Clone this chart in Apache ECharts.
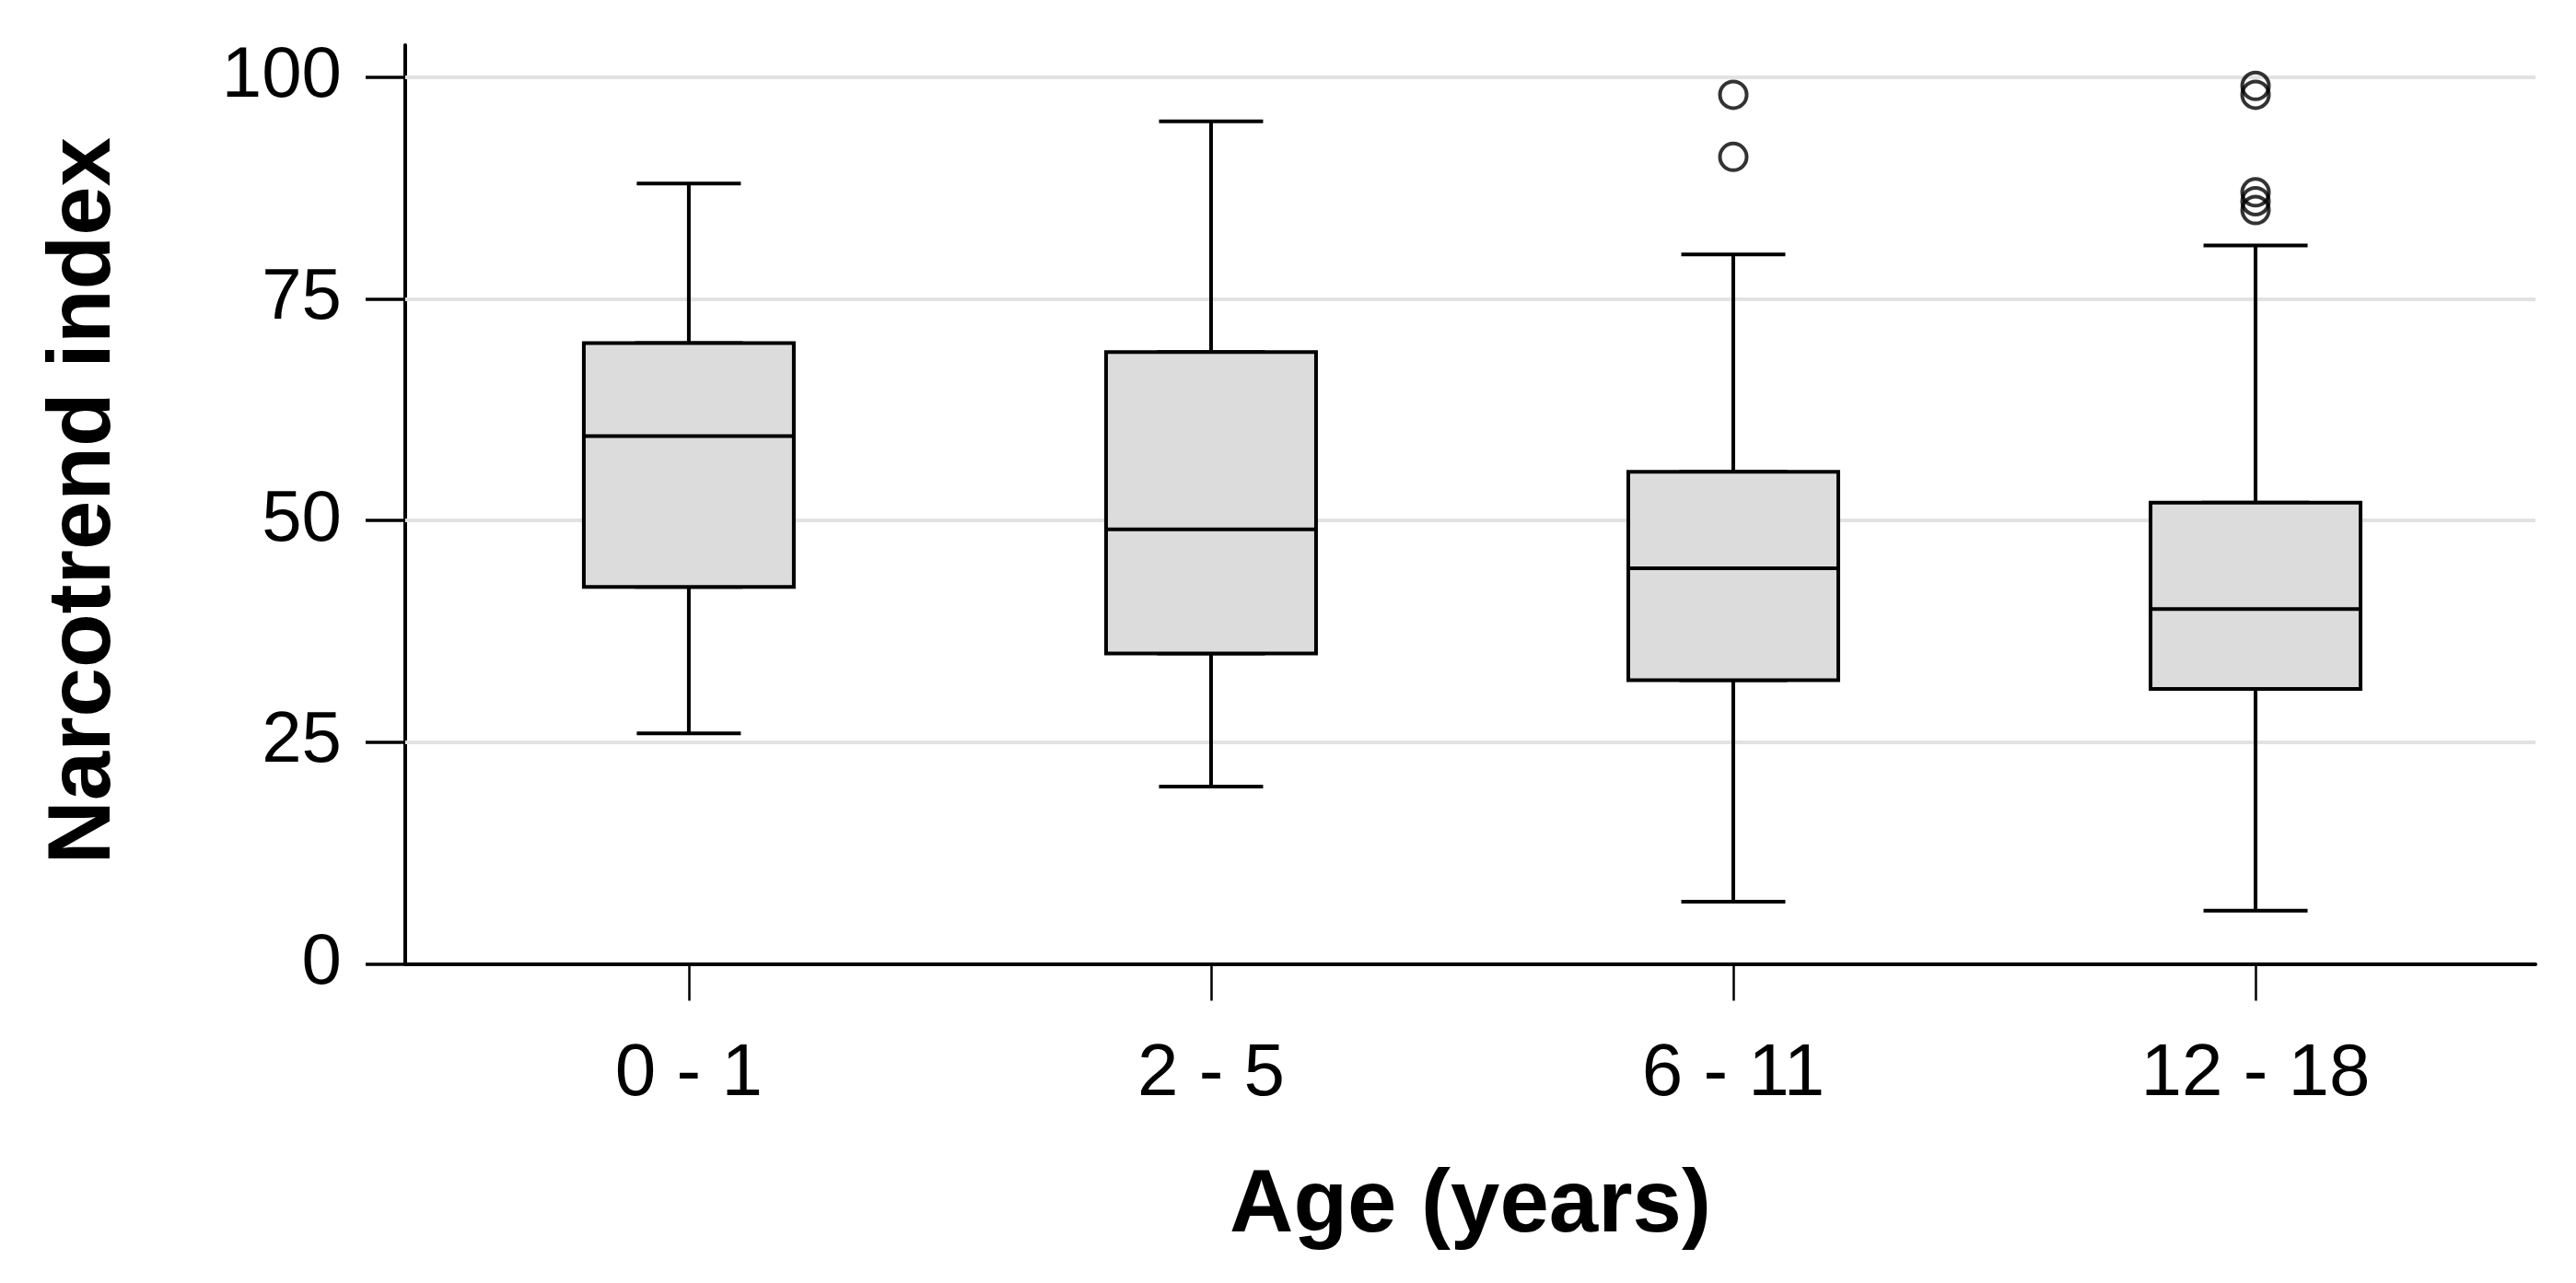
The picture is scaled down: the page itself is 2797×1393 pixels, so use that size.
<!DOCTYPE html>
<html>
<head>
<meta charset="utf-8">
<script src="https://cdn.jsdelivr.net/npm/echarts@6/dist/echarts.min.js"></script>
<style>
html,body{margin:0;padding:0;background:#fff;}
#chart{width:2797px;height:1393px;}
</style>
</head>
<body>
<div id="chart"></div>
<script>
// ---- data ----
const categories   = ['0 - 1', '2 - 5', '6 - 11', '12 - 18'];
const whiskerLow   = [26, 20, 7, 6];
const q1           = [42.5, 35, 32, 31];
const median       = [59.5, 49, 44.6, 40];
const q3           = [70, 69, 55.5, 52];
const whiskerHigh  = [88, 95, 80, 81];
const outlierCategory = ['6 - 11', '6 - 11', '12 - 18', '12 - 18', '12 - 18', '12 - 18', '12 - 18'];
const outlierValue    = [98, 91, 99, 98, 87, 86, 85];
const yTicks = [0, 25, 50, 75, 100];

// ---- build series data ----
const pos = categories.map((c, i) => i + 1);
const whiskerData = categories.map((c, i) => [pos[i], whiskerLow[i], q1[i], median[i], q3[i], whiskerHigh[i]]);
const boxData = categories.map((c, i) => [pos[i], q1[i], q1[i], median[i], q3[i], q3[i]]);
const outlierData = outlierCategory.map((c, i) => [categories.indexOf(c) + 1, outlierValue[i]]);
const gridData = yTicks.filter(v => v > 0).map(v => ({yAxis: v}));

const font = '"Liberation Sans", Arial, Helvetica, sans-serif';
const chart = echarts.init(document.getElementById('chart'), null, {renderer: 'canvas'});

const xMin = 0.457, xMax = 4.536;

chart.setOption({
  animation: false,
  backgroundColor: '#fff',
  grid: {left: 440, right: 44, top: 49, bottom: 346.5, containLabel: false},
  xAxis: [{
    type: 'value', min: xMin, max: xMax,
    name: 'Age (years)', nameLocation: 'middle', nameGap: 216,
    nameTextStyle: {fontFamily: font, fontSize: 96, fontWeight: 'bold', color: '#000'},
    axisLine: {show: true, onZero: false, lineStyle: {color: '#000', width: 4}},
    axisTick: {show: true, customValues: pos, length: 40, lineStyle: {color: '#000', width: 2.5}},
    axisLabel: {show: true, customValues: pos, formatter: v => categories[Math.round(v) - 1] || '',
      fontFamily: font, fontSize: 80, color: '#000', margin: 80},
    splitLine: {show: false}
  }, {
    type: 'value', min: xMin, max: xMax, show: false
  }],
  yAxis: {
    type: 'value', min: 0, max: 103.6, interval: 25,
    name: 'Narcotrend index', nameLocation: 'middle', nameGap: 299, nameRotate: 90,
    nameTextStyle: {fontFamily: font, fontSize: 96, fontWeight: 'bold', color: '#000', padding: [0, 0, 0, 8]},
    axisLine: {show: true, onZero: false, lineStyle: {color: '#000', width: 4}},
    axisTick: {show: true, customValues: yTicks, length: 43, lineStyle: {color: '#000', width: 3.5}},
    axisLabel: {show: true, customValues: yTicks, fontFamily: font, fontSize: 78, color: '#000', margin: 69},
    splitLine: {show: false}
  },
  series: [{
    name: 'whiskers', type: 'boxplot', layout: 'horizontal', xAxisIndex: 1, yAxisIndex: 0,
    data: whiskerData, boxWidth: [113, 113], z: 2,
    itemStyle: {color: '#dcdcdc', borderColor: '#000', borderWidth: 4},
    emphasis: {disabled: true},
    markLine: {
      silent: true, symbol: 'none', label: {show: false}, z: 1,
      lineStyle: {color: '#e2e2e2', width: 4, type: 'solid'},
      emphasis: {disabled: true},
      data: gridData
    }
  }, {
    name: 'boxes', type: 'boxplot', layout: 'horizontal', xAxisIndex: 0, yAxisIndex: 0,
    data: boxData, boxWidth: [228, 228], z: 3,
    itemStyle: {color: '#dcdcdc', borderColor: '#000', borderWidth: 4},
    emphasis: {disabled: true}
  }, {
    name: 'outliers', type: 'scatter', xAxisIndex: 0, yAxisIndex: 0,
    data: outlierData, symbol: 'circle', symbolSize: 29, z: 4,
    itemStyle: {color: 'rgba(0,0,0,0)', borderColor: '#000', borderWidth: 4},
    emphasis: {disabled: true}
  }]
});
</script>
</body>
</html>
